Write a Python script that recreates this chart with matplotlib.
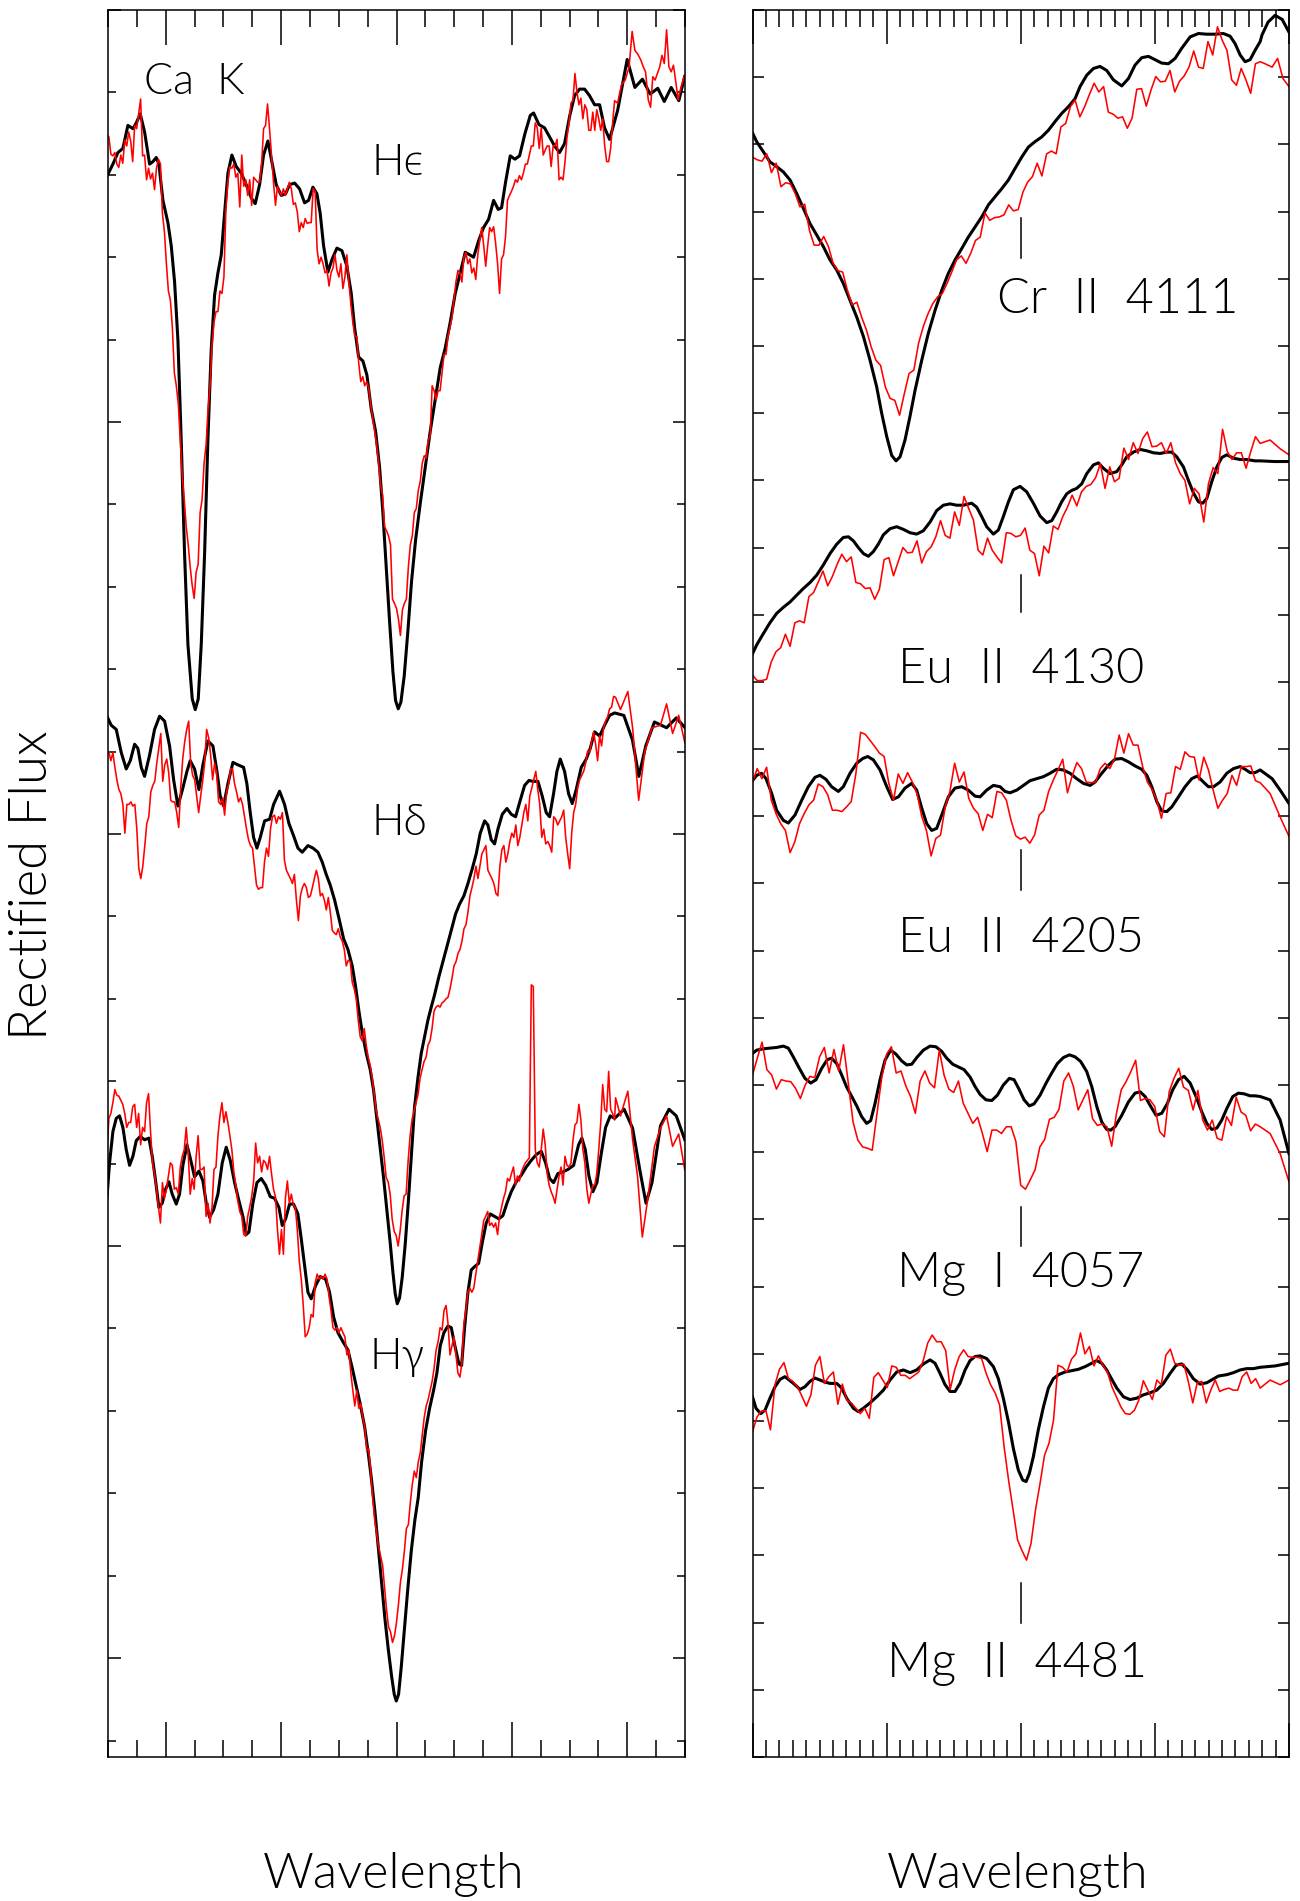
import numpy as np
import matplotlib
matplotlib.use('Agg')
import matplotlib.pyplot as plt
from matplotlib.ticker import MultipleLocator

FONT = ['Lato', 'DejaVu Sans']
plt.rcParams['font.family'] = FONT

# ---------------- LEFT PANEL (delta-lambda in Angstrom, rectified flux + offsets) ----------------
# Ca K + H-epsilon : model
tl_model_x = [-50.19,-49.15,-48.28,-47.42,-46.55,-45.68,-45.10,-44.41,-43.66,-42.79,
              -42.22,-41.64,-41.18,-40.48,-39.62,-39.04,-38.46,-37.88,-37.31,-36.73,
              -36.15,-35.40,-34.88,-34.36,-33.84,-33.26,-32.69,-32.11,-31.53,-30.95,
              -30.37,-29.80,-29.22,-28.53,-27.77,-26.91,-26.04,-25.17,-24.48,-23.73,
              -23.04,-22.29,-21.53,-20.84,-19.97,-19.22,-18.53,-17.66,-16.80,-15.93,
              -15.24,-14.49,-13.79,-13.22,-12.64,-11.89,-11.14,-10.33,-9.46,-8.59,
              -7.84,-7.27,-6.57,-5.82,-5.13,-4.38,-3.63,-2.93,-2.36,-1.78,
              -1.20,-0.62,-0.16,0.30,0.76,1.34,1.98,2.61,3.31,4.11,
              4.98,5.85,6.71,7.58,8.45,9.31,10.18,11.05,11.91,12.67,
              13.36,14.23,15.09,15.96,16.83,17.63,18.21,18.90,19.71,20.52,
              21.33,22.26,23.18,23.76,24.68,25.66,26.53,27.40,28.26,29.13,
              30.00,30.86,31.73,32.60,33.46,34.33,35.20,36.06,36.93,38.32,
              39.98,41.31,42.63,43.96,45.28,46.41,47.61,48.93,49.93]
tl_model_y = [2.298,2.313,2.327,2.332,2.360,2.356,2.363,2.374,2.352,2.313,
              2.316,2.321,2.313,2.269,2.242,2.214,2.170,2.099,1.978,1.840,
              1.730,1.664,1.651,1.664,1.730,1.840,1.978,2.088,2.154,2.181,
              2.203,2.253,2.302,2.324,2.310,2.302,2.288,2.272,2.265,2.288,
              2.324,2.341,2.313,2.288,2.275,2.277,2.288,2.290,2.283,2.266,
              2.269,2.285,2.277,2.253,2.214,2.182,2.198,2.211,2.208,2.189,
              2.156,2.115,2.079,2.074,2.057,2.016,1.989,1.945,1.890,1.824,
              1.758,1.697,1.662,1.652,1.660,1.692,1.747,1.807,1.857,1.901,
              1.945,1.989,2.027,2.066,2.090,2.121,2.156,2.181,2.206,2.203,
              2.200,2.220,2.236,2.246,2.269,2.258,2.260,2.291,2.323,2.319,
              2.323,2.350,2.372,2.375,2.361,2.357,2.346,2.335,2.327,2.338,
              2.371,2.396,2.404,2.404,2.396,2.385,2.385,2.357,2.343,2.378,
              2.440,2.406,2.416,2.398,2.405,2.389,2.406,2.390,2.419]
# Ca K + H-epsilon : observed (uniform sampling from tl_obs_start to tl_obs_stop, then tail)
tl_obs_start, tl_obs_stop = -50.19, 37.80
tl_obs_y = [2.349,2.346,2.325,2.323,2.327,2.313,2.309,2.324,2.314,2.342,
            2.335,2.352,2.341,2.316,2.360,2.356,2.374,2.392,2.323,2.324,
            2.294,2.308,2.295,2.302,2.282,2.308,2.319,2.313,2.253,2.231,
            2.192,2.159,2.148,2.115,2.060,2.044,2.022,1.978,1.934,1.906,
            1.873,1.851,1.824,1.802,1.786,1.818,1.827,1.890,1.906,1.950,
            1.972,2.016,2.044,2.093,2.121,2.134,2.134,2.159,2.156,2.176,
            2.258,2.291,2.310,2.308,2.313,2.297,2.302,2.261,2.324,2.286,
            2.294,2.275,2.294,2.263,2.297,2.294,2.291,2.291,2.313,2.356,
            2.360,2.386,2.356,2.324,2.291,2.263,2.286,2.280,2.275,2.283,
            2.275,2.283,2.291,2.283,2.264,2.266,2.255,2.231,2.242,2.236,
            2.247,2.241,2.242,2.242,2.283,2.280,2.209,2.192,2.200,2.192,
            2.181,2.184,2.165,2.181,2.187,2.203,2.184,2.176,2.192,2.162,
            2.176,2.203,2.170,2.143,2.121,2.104,2.104,2.071,2.049,2.055,
            2.044,2.049,2.041,2.022,2.005,1.989,1.972,1.950,1.923,1.912,
            1.873,1.868,1.862,1.851,1.785,1.780,1.774,1.761,1.741,1.772,
            1.780,1.785,1.824,1.851,1.862,1.890,1.895,1.917,1.928,1.950,
            1.959,1.956,1.978,1.983,2.044,2.038,2.027,2.038,2.038,2.060,
            2.082,2.082,2.104,2.115,2.126,2.148,2.170,2.184,2.181,2.170,
            2.200,2.206,2.192,2.198,2.181,2.187,2.173,2.203,2.220,2.236,
            2.214,2.189,2.214,2.236,2.231,2.237,2.217,2.192,2.156,2.198,
            2.203,2.225,2.269,2.275,2.280,2.286,2.294,2.291,2.299,2.294,
            2.302,2.313,2.313,2.324,2.335,2.335,2.363,2.357,2.332,2.357,
            2.324,2.330,2.335,2.335,2.310,2.335,2.335,2.343,2.294,2.297,
            2.294,2.316,2.346,2.363,2.387,2.390,2.423,2.401,2.385,2.393,
            2.368,2.385,2.379,2.354,2.354,2.376,2.354,2.379,2.368,2.354,
            2.368,2.335,2.316,2.316,2.332,2.363,2.390]
tl_obs_tail_x = [38.32,38.98,39.65,40.31,40.84,41.31,41.77,42.30,42.77,43.16,43.63,44.03,44.42,
                 44.82,45.22,45.62,46.01,46.41,46.81,47.21,47.61,48.00,48.40,48.80,49.27,49.93]
tl_obs_tail_y = [2.387,2.409,2.415,2.431,2.474,2.451,2.447,2.440,2.431,2.425,2.391,2.382,2.419,
                 2.415,2.423,2.431,2.445,2.435,2.476,2.431,2.425,2.433,2.413,2.391,2.405,2.421]

# H-delta : model
ml_model_x = [-50.19,-49.44,-48.57,-47.71,-46.84,-46.14,-45.39,-44.82,-44.24,-43.66,
              -42.79,-41.93,-41.06,-40.19,-39.33,-38.63,-37.88,-37.02,-36.32,-35.75,
              -35.0,-34.24,-33.55,-32.68,-31.82,-31.12,-30.55,-29.97,-29.22,-28.35,
              -27.49,-26.50,-25.93,-25.35,-24.77,-24.19,-23.61,-22.86,-21.99,-21.30,
              -20.26,-19.40,-18.65,-17.84,-17.09,-16.34,-15.35,-14.49,-13.62,-12.87,
              -12.18,-11.48,-10.73,-9.98,-9.17,-8.42,-7.67,-7.09,-6.51,-5.94,
              -5.24,-4.55,-3.97,-3.40,-2.82,-2.24,-1.66,-1.08,-0.62,-0.22,
              0.13,0.53,0.99,1.52,2.04,2.56,3.13,3.71,4.29,4.87,
              5.44,6.02,6.60,7.35,8.04,8.80,9.55,10.24,10.93,11.68,
              12.38,13.13,13.82,14.51,15.27,15.84,16.42,17.0,17.58,18.33,
              19.14,19.89,20.64,21.45,22.20,22.95,23.64,24.51,25.26,25.95,
              26.53,27.22,27.80,28.38,29.13,29.82,30.46,31.15,32.02,32.89,
              33.58,34.33,35.20,36.06,36.93,37.80,39.4,40.9,42.0,43.2,
              44.7,46.8,48.5,50.0]
ml_model_y = [1.643,1.632,1.627,1.599,1.579,1.589,1.609,1.604,1.581,1.570,
              1.596,1.627,1.643,1.637,1.607,1.566,1.534,1.556,1.576,1.589,
              1.579,1.554,1.584,1.613,1.607,1.576,1.546,1.534,1.561,1.587,
              1.584,1.581,1.561,1.526,1.496,1.483,1.496,1.516,1.518,1.536,
              1.552,1.536,1.513,1.498,1.483,1.478,1.486,1.483,1.478,1.466,
              1.451,1.438,1.420,1.398,1.373,1.360,1.340,1.315,1.285,1.259,
              1.234,1.214,1.189,1.154,1.118,1.083,1.043,1.003,0.968,0.942,
              0.930,0.937,0.962,1.003,1.053,1.108,1.169,1.204,1.234,1.254,
              1.274,1.290,1.305,1.327,1.345,1.365,1.385,1.403,1.415,1.425,
              1.440,1.458,1.476,1.501,1.516,1.511,1.493,1.488,1.506,1.524,
              1.531,1.524,1.521,1.541,1.559,1.565,1.564,1.564,1.546,1.526,
              1.521,1.549,1.576,1.591,1.576,1.549,1.537,1.554,1.581,1.591,
              1.604,1.624,1.619,1.632,1.644,1.647,1.644,1.614,1.570,1.607,
              1.636,1.629,1.641,1.629]
ml_obs_start, ml_obs_stop = -50.19, 37.62
ml_obs_y = [1.601,1.599,1.589,1.599,1.581,1.566,1.554,1.549,1.536,1.501,
            1.536,1.536,1.539,1.534,1.536,1.506,1.458,1.446,1.461,1.486,
            1.513,1.521,1.551,1.559,1.564,1.586,1.604,1.622,1.564,1.584,
            1.591,1.574,1.541,1.539,1.539,1.526,1.508,1.556,1.591,1.612,
            1.627,1.637,1.586,1.571,1.566,1.546,1.526,1.546,1.564,1.586,
            1.627,1.617,1.596,1.566,1.586,1.574,1.539,1.536,1.544,1.523,
            1.551,1.561,1.579,1.579,1.561,1.551,1.539,1.544,1.536,1.521,
            1.506,1.493,1.486,1.483,1.461,1.438,1.433,1.435,1.435,1.466,
            1.483,1.473,1.506,1.521,1.523,1.513,1.521,1.518,1.526,1.468,
            1.456,1.451,1.446,1.440,1.451,1.420,1.395,1.425,1.435,1.440,
            1.435,1.423,1.425,1.435,1.446,1.456,1.446,1.425,1.428,1.420,
            1.408,1.423,1.405,1.383,1.380,1.378,1.385,1.375,1.370,1.360,
            1.340,1.347,1.345,1.320,1.312,1.300,1.274,1.254,1.249,1.264,
            1.244,1.229,1.219,1.204,1.184,1.164,1.154,1.144,1.129,1.108,
            1.083,1.078,1.063,1.033,1.018,1.013,1.000,1.018,1.043,1.061,
            1.063,1.103,1.134,1.154,1.164,1.174,1.184,1.204,1.214,1.224,
            1.229,1.244,1.249,1.264,1.285,1.290,1.292,1.290,1.295,1.297,
            1.300,1.302,1.312,1.325,1.340,1.345,1.355,1.360,1.370,1.385,
            1.390,1.405,1.425,1.435,1.446,1.461,1.446,1.461,1.476,1.481,
            1.486,1.456,1.451,1.446,1.440,1.428,1.425,1.461,1.481,1.486,
            1.466,1.476,1.491,1.501,1.496,1.511,1.486,1.496,1.511,1.526,
            1.536,1.516,1.546,1.556,1.566,1.576,1.554,1.536,1.496,1.506,
            1.488,1.491,1.486,1.478,1.521,1.518,1.511,1.516,1.521,1.529,
            1.496,1.476,1.458,1.501,1.526,1.536,1.556,1.566,1.571,1.576,
            1.586,1.601,1.599,1.612,1.624,1.609,1.589,1.619,1.607,1.629,
            1.637,1.642,1.652,1.654,1.667]
ml_obs_tail_x = [37.97,38.82,40.09,40.92,41.97,43.03,44.28,45.75,46.81,47.85,48.91,49.97]
ml_obs_tail_y = [1.666,1.651,1.673,1.629,1.541,1.600,1.629,1.632,1.658,1.622,1.644,1.611]

# H-gamma : model
bl_model_x = [-50.19,-49.73,-49.15,-48.57,-48.0,-47.42,-46.84,-46.26,-45.68,-45.10,
              -44.41,-43.66,-42.91,-42.33,-41.75,-41.18,-40.60,-40.02,-39.44,-38.87,
              -38.17,-37.60,-37.02,-36.32,-35.75,-35.0,-34.24,-33.55,-32.97,-32.40,
              -31.70,-30.95,-30.20,-29.51,-28.81,-28.06,-27.31,-26.62,-26.04,-25.58,
              -24.89,-24.19,-23.44,-22.69,-21.88,-21.13,-20.38,-19.80,-19.22,-18.53,
              -17.84,-17.09,-16.51,-15.93,-15.35,-14.78,-14.02,-13.22,-12.29,-11.60,
              -10.90,-10.15,-9.29,-8.42,-7.67,-6.98,-6.28,-5.53,-4.90,-4.32,
              -3.74,-3.16,-2.59,-2.01,-1.43,-0.85,-0.39,-0.04,0.36,0.82,
              1.34,1.92,2.56,3.19,3.77,4.35,5.04,5.73,6.43,7.0,
              7.58,8.22,8.91,9.49,10.12,10.82,11.28,11.80,12.38,12.95,
              13.53,14.23,14.86,15.55,16.25,17.0,17.75,18.44,19.14,19.89,
              20.75,21.62,22.49,23.35,24.22,25.09,25.84,26.53,27.22,27.97,
              28.84,29.71,30.69,31.56,32.13,32.71,33.35,34.04,34.73,35.48,
              36.24,37.04,37.80,39.45,40.92,42.18,43.24,44.28,45.75,47.23,
              48.49,49.97]
bl_model_y = [1.058,1.101,1.139,1.155,1.158,1.144,1.117,1.098,1.109,1.128,
              1.133,1.129,1.131,1.109,1.079,1.047,1.052,1.069,1.078,1.063,
              1.051,1.063,1.098,1.123,1.107,1.084,1.091,1.079,1.052,1.035,
              1.044,1.063,1.101,1.120,1.104,1.077,1.055,1.036,1.014,1.017,
              1.052,1.077,1.082,1.074,1.060,1.058,1.047,1.025,1.033,1.051,
              1.051,1.039,1.009,0.976,0.944,0.936,0.952,0.963,0.960,0.944,
              0.914,0.895,0.884,0.874,0.852,0.830,0.808,0.781,0.749,0.716,
              0.678,0.635,0.592,0.548,0.511,0.478,0.456,0.448,0.456,0.489,
              0.532,0.581,0.630,0.668,0.695,0.738,0.776,0.803,0.825,0.846,
              0.879,0.895,0.903,0.901,0.879,0.857,0.855,0.901,0.944,0.971,
              0.975,0.979,1.004,1.028,1.039,1.036,1.033,1.037,1.052,1.066,
              1.078,1.086,1.096,1.104,1.111,1.115,1.101,1.082,1.077,1.088,
              1.090,1.093,1.098,1.123,1.131,1.117,1.085,1.066,1.077,1.112,
              1.144,1.158,1.155,1.166,1.143,1.092,1.052,1.077,1.146,1.166,
              1.158,1.129]
bl_obs_start, bl_obs_stop = -50.19, 37.80
bl_obs_y = [1.112,1.155,1.161,1.174,1.190,1.183,1.182,1.177,1.172,1.161,
            1.144,1.150,1.150,1.169,1.172,1.144,1.161,1.123,1.144,1.139,
            1.174,1.185,1.139,1.101,1.088,1.069,1.047,1.028,1.077,1.058,
            1.069,1.085,1.101,1.098,1.069,1.071,1.063,1.096,1.109,1.117,
            1.144,1.112,1.063,1.082,1.069,1.109,1.134,1.093,1.093,1.096,
            1.036,1.052,1.028,1.047,1.093,1.096,1.134,1.158,1.174,1.150,
            1.163,1.150,1.134,1.117,1.090,1.074,1.055,1.042,1.036,1.014,
            1.012,1.036,1.047,1.060,1.079,1.125,1.101,1.109,1.090,1.104,
            1.101,1.093,1.109,1.088,1.069,1.060,1.020,0.990,1.020,0.990,
            1.058,1.079,1.052,1.063,1.050,1.047,1.020,0.982,0.960,0.928,
            0.890,0.893,0.901,0.917,0.914,0.955,0.966,0.960,0.963,0.960,
            0.966,0.960,0.939,0.922,0.901,0.898,0.901,0.895,0.901,0.895,
            0.890,0.868,0.874,0.846,0.825,0.806,0.825,0.803,0.809,0.792,
            0.781,0.752,0.754,0.727,0.695,0.668,0.651,0.635,0.624,0.613,
            0.586,0.559,0.538,0.532,0.519,0.527,0.543,0.565,0.592,0.608,
            0.630,0.657,0.662,0.689,0.711,0.727,0.719,0.738,0.749,0.771,
            0.792,0.806,0.814,0.825,0.836,0.852,0.874,0.884,0.901,0.898,
            0.922,0.928,0.906,0.868,0.879,0.890,0.868,0.846,0.841,0.858,
            0.906,0.922,0.944,0.949,0.944,0.949,0.966,0.982,0.998,1.014,
            1.031,1.036,1.042,1.025,1.028,1.023,1.028,1.014,1.036,1.047,
            1.058,1.066,1.082,1.079,1.088,1.096,1.074,1.085,1.079,1.090,
            1.096,1.101,1.104,1.107,1.317,1.315,1.117,1.101,1.096,1.117,
            1.142,1.123,1.088,1.074,1.066,1.060,1.052,1.069,1.085,1.096,
            1.074,1.109,1.098,1.096,1.101,1.128,1.147,1.150,1.172,1.153,
            1.117,1.101,1.069,1.052,1.063,1.074,1.074,1.088,1.117,1.150,
            1.196,1.166,1.163,1.212,1.166,1.161,1.153]
bl_obs_tail_x = [37.97,38.82,40.09,40.92,41.77,42.60,43.66,44.71,45.75,46.81,47.85,48.91,49.97]
bl_obs_tail_y = [1.180,1.158,1.188,1.129,1.085,1.011,1.063,1.121,1.143,1.158,1.121,1.136,1.092]

# ---------------- RIGHT PANEL (delta-lambda in Angstrom) ----------------
r_obs_start, r_obs_stop = -2.0, 1.785
r_tail_x = [1.859, 1.934, 2.0]

cr_model_x = [-2.0,-1.969,-1.919,-1.870,-1.820,-1.770,-1.720,-1.671,-1.621,-1.571,
              -1.521,-1.472,-1.422,-1.372,-1.323,-1.273,-1.223,-1.173,-1.124,-1.074,
              -1.037,-0.999,-0.962,-0.930,-0.900,-0.863,-0.826,-0.788,-0.738,-0.689,
              -0.639,-0.589,-0.540,-0.490,-0.440,-0.391,-0.341,-0.291,-0.241,-0.192,
              -0.142,-0.092,-0.043,0.007,0.057,0.106,0.156,0.206,0.256,0.305,
              0.355,0.405,0.442,0.492,0.542,0.591,0.641,0.691,0.753,0.803,
              0.852,0.902,0.952,1.002,1.051,1.101,1.151,1.200,1.263,1.325,
              1.387,1.449,1.511,1.561,1.598,1.636,1.673,1.710,1.747,1.785,
              1.799,1.844,1.896,1.949,2.0]
cr_model_y = [2.417,2.404,2.389,2.374,2.367,2.359,2.347,2.327,2.305,2.282,
              2.265,2.248,2.228,2.213,2.193,2.168,2.143,2.114,2.079,2.039,
              2.000,1.965,1.937,1.929,1.935,1.960,1.995,2.034,2.079,2.119,
              2.153,2.183,2.208,2.228,2.245,2.262,2.277,2.292,2.310,2.322,
              2.334,2.347,2.364,2.381,2.396,2.404,2.411,2.421,2.434,2.446,
              2.456,2.468,2.486,2.503,2.513,2.516,2.510,2.496,2.487,2.498,
              2.518,2.529,2.531,2.526,2.521,2.520,2.528,2.543,2.560,2.565,
              2.564,2.564,2.565,2.561,2.550,2.533,2.523,2.526,2.540,2.553,
              2.563,2.582,2.592,2.586,2.567]
cr_obs_y = [2.381,2.377,2.375,2.386,2.358,2.372,2.337,2.343,2.341,2.327,
            2.307,2.311,2.272,2.250,2.250,2.263,2.248,2.223,2.212,2.210,
            2.183,2.161,2.165,2.143,2.124,2.099,2.079,2.071,2.039,2.022,
            2.019,1.997,2.029,2.059,2.064,2.104,2.129,2.148,2.163,2.173,
            2.178,2.193,2.210,2.228,2.234,2.223,2.238,2.257,2.262,2.298,
            2.287,2.291,2.292,2.295,2.310,2.301,2.303,2.329,2.344,2.352,
            2.372,2.353,2.386,2.390,2.386,2.426,2.431,2.456,2.466,2.441,
            2.456,2.474,2.491,2.478,2.486,2.448,2.445,2.439,2.441,2.424,
            2.439,2.482,2.483,2.457,2.481,2.501,2.493,2.494,2.510,2.478,
            2.494,2.502,2.515,2.539,2.515,2.513,2.553,2.533,2.575,2.555,
            2.540,2.496,2.488,2.513,2.496,2.476,2.520,2.523]
cr_obs_tail_x = [1.822, 1.874, 1.915, 1.955, 2.0]
cr_obs_tail_y = [2.520, 2.515, 2.528, 2.498, 2.486]

eu1_model_x = [-2.0,-1.969,-1.919,-1.870,-1.820,-1.770,-1.720,-1.671,-1.621,-1.571,
               -1.521,-1.472,-1.422,-1.372,-1.323,-1.285,-1.248,-1.211,-1.173,-1.136,
               -1.099,-1.062,-1.024,-0.975,-0.925,-0.875,-0.825,-0.776,-0.726,-0.676,
               -0.627,-0.577,-0.527,-0.478,-0.428,-0.366,-0.328,-0.291,-0.254,-0.204,
               -0.167,-0.130,-0.092,-0.055,-0.005,0.044,0.094,0.144,0.194,0.231,
               0.268,0.305,0.343,0.380,0.417,0.455,0.492,0.542,0.579,0.616,
               0.666,0.716,0.753,0.790,0.840,0.890,0.939,0.989,1.039,1.089,
               1.126,1.163,1.213,1.250,1.288,1.325,1.357,1.387,1.424,1.462,
               1.499,1.536,1.586,1.635,1.685,1.747,1.785,1.89,2.0]
eu1_model_y = [1.642,1.655,1.672,1.688,1.702,1.711,1.719,1.729,1.739,1.748,
               1.759,1.774,1.791,1.805,1.815,1.816,1.810,1.800,1.791,1.787,
               1.794,1.805,1.819,1.828,1.831,1.827,1.822,1.820,1.825,1.838,
               1.855,1.863,1.865,1.863,1.863,1.866,1.860,1.846,1.831,1.820,
               1.826,1.846,1.868,1.886,1.891,1.883,1.866,1.847,1.837,1.840,
               1.853,1.868,1.880,1.885,1.888,1.895,1.910,1.923,1.926,1.918,
               1.910,1.913,1.923,1.935,1.942,1.946,1.944,1.941,1.940,1.942,
               1.942,1.935,1.920,1.900,1.881,1.868,1.866,1.873,1.898,1.920,
               1.934,1.938,1.933,1.931,1.931,1.929,1.929,1.928,1.928]
eu1_obs_y = [1.610,1.602,1.602,1.604,1.630,1.645,1.651,1.671,1.653,1.688,
             1.691,1.688,1.727,1.733,1.749,1.765,1.743,1.757,1.775,1.790,
             1.779,1.786,1.748,1.746,1.739,1.740,1.723,1.738,1.782,1.785,
             1.758,1.779,1.800,1.792,1.793,1.810,1.777,1.794,1.801,1.816,
             1.840,1.818,1.814,1.853,1.833,1.876,1.858,1.841,1.796,1.789,
             1.814,1.796,1.786,1.777,1.822,1.821,1.816,1.818,1.829,1.796,
             1.791,1.758,1.802,1.792,1.832,1.827,1.846,1.860,1.878,1.862,
             1.883,1.891,1.894,1.904,1.925,1.888,1.920,1.898,1.903,1.948,
             1.931,1.956,1.940,1.962,1.972,1.950,1.951,1.956,1.940,1.956,
             1.926,1.910,1.900,1.865,1.888,1.880,1.838,1.895,1.919,1.910,
             1.976,1.943,1.931,1.941,1.941,1.918,1.943,1.965,1.955]
eu1_obs_tail_y = [1.960, 1.947, 1.938]

eu2_model_x = [-2.0,-1.969,-1.932,-1.899,-1.857,-1.820,-1.770,-1.733,-1.683,-1.633,
               -1.584,-1.534,-1.497,-1.452,-1.410,-1.360,-1.323,-1.273,-1.223,-1.178,
               -1.141,-1.099,-1.049,-0.999,-0.955,-0.912,-0.863,-0.813,-0.776,-0.738,
               -0.701,-0.664,-0.627,-0.589,-0.540,-0.490,-0.440,-0.391,-0.341,-0.303,
               -0.254,-0.204,-0.154,-0.117,-0.080,-0.030,0.020,0.069,0.119,0.169,
               0.218,0.268,0.318,0.368,0.417,0.467,0.517,0.554,0.604,0.654,
               0.703,0.753,0.803,0.852,0.902,0.940,0.977,1.014,1.051,1.089,
               1.126,1.176,1.225,1.275,1.317,1.362,1.399,1.437,1.486,1.536,
               1.586,1.635,1.673,1.710,1.747,1.785,1.874,1.934,2.0]
eu2_model_y = [1.453,1.461,1.464,1.456,1.434,1.409,1.394,1.390,1.402,1.424,
               1.444,1.458,1.461,1.455,1.444,1.437,1.444,1.464,1.479,1.486,
               1.489,1.484,1.469,1.444,1.425,1.429,1.442,1.449,1.439,1.412,
               1.389,1.379,1.382,1.402,1.429,1.442,1.444,1.439,1.430,1.429,
               1.439,1.446,1.444,1.437,1.435,1.439,1.446,1.453,1.456,1.459,
               1.464,1.470,1.469,1.464,1.456,1.449,1.446,1.451,1.464,1.476,
               1.485,1.486,1.481,1.475,1.470,1.461,1.444,1.422,1.408,1.407,
               1.414,1.429,1.444,1.456,1.460,1.451,1.444,1.444,1.451,1.464,
               1.471,1.474,1.470,1.465,1.465,1.469,1.456,1.439,1.419]
eu2_obs_y = [1.451,1.471,1.456,1.473,1.424,1.404,1.389,1.379,1.346,1.362,
             1.389,1.404,1.417,1.424,1.448,1.444,1.432,1.409,1.409,1.407,
             1.414,1.422,1.464,1.525,1.522,1.513,1.504,1.494,1.489,1.449,
             1.424,1.463,1.449,1.465,1.451,1.434,1.400,1.379,1.341,1.367,
             1.372,1.414,1.437,1.479,1.451,1.466,1.427,1.412,1.404,1.379,
             1.403,1.398,1.437,1.435,1.424,1.394,1.371,1.366,1.369,1.360,
             1.372,1.402,1.409,1.437,1.454,1.469,1.485,1.435,1.460,1.480,
             1.471,1.451,1.450,1.451,1.471,1.479,1.471,1.485,1.521,1.494,
             1.523,1.506,1.506,1.474,1.451,1.440,1.424,1.397,1.434,1.435,
             1.474,1.470,1.496,1.489,1.488,1.454,1.488,1.469,1.439,1.412,
             1.424,1.434,1.461,1.446,1.474,1.474,1.475,1.453,1.450]
eu2_obs_tail_y = [1.434, 1.399, 1.370]

mg1_model_x = [-2.0,-1.969,-1.919,-1.870,-1.820,-1.770,-1.733,-1.696,-1.651,-1.609,
               -1.566,-1.526,-1.484,-1.442,-1.410,-1.372,-1.335,-1.298,-1.260,-1.223,
               -1.186,-1.149,-1.119,-1.086,-1.049,-1.012,-0.970,-0.930,-0.888,-0.850,
               -0.813,-0.771,-0.726,-0.676,-0.632,-0.589,-0.552,-0.507,-0.465,-0.423,
               -0.378,-0.341,-0.303,-0.259,-0.216,-0.174,-0.130,-0.085,-0.050,-0.013,
               0.025,0.064,0.099,0.144,0.189,0.231,0.273,0.318,0.363,0.405,
               0.447,0.492,0.529,0.567,0.604,0.641,0.671,0.703,0.753,0.803,
               0.852,0.890,0.927,0.964,1.009,1.051,1.094,1.133,1.176,1.218,
               1.263,1.307,1.350,1.387,1.424,1.462,1.499,1.536,1.581,1.623,
               1.665,1.710,1.747,1.785,1.859,1.934,2.0]
mg1_model_y = [1.047,1.052,1.054,1.055,1.056,1.058,1.055,1.042,1.025,1.010,
               1.003,1.008,1.025,1.038,1.040,1.032,1.015,0.997,0.983,0.969,
               0.953,0.943,0.947,0.973,1.008,1.037,1.052,1.046,1.036,1.030,
               1.031,1.042,1.052,1.058,1.057,1.050,1.040,1.031,1.027,1.023,
               1.012,0.998,0.986,0.978,0.977,0.985,1.000,1.010,1.008,0.994,
               0.978,0.969,0.972,0.985,1.003,1.018,1.032,1.041,1.045,1.042,
               1.035,1.020,0.998,0.968,0.945,0.934,0.933,0.938,0.955,0.975,
               0.988,0.990,0.983,0.970,0.955,0.958,0.973,0.993,1.008,1.013,
               1.003,0.983,0.960,0.943,0.934,0.936,0.948,0.965,0.983,0.988,
               0.987,0.984,0.984,0.983,0.978,0.948,0.898]
mg1_obs_y = [1.015,1.040,1.064,1.023,1.015,0.994,1.008,1.006,1.005,0.995,
             0.980,1.000,1.013,1.011,1.042,1.056,1.018,1.053,1.021,1.060,
             1.003,0.945,0.918,0.908,0.906,0.903,0.958,1.012,1.046,1.057,
             1.018,1.021,0.999,0.983,0.958,1.006,1.021,1.003,0.996,1.052,
             1.015,0.994,0.989,1.006,0.973,0.958,0.943,0.952,0.928,0.901,
             0.933,0.933,0.928,0.938,0.938,0.916,0.851,0.845,0.859,0.874,
             0.908,0.919,0.949,0.952,0.964,1.006,1.018,0.998,0.963,0.978,
             0.993,0.950,0.940,0.942,0.938,0.909,0.958,0.993,1.005,1.020,
             1.037,0.977,0.980,0.978,0.968,0.931,0.923,0.990,1.010,1.025,
             0.997,0.992,0.963,0.992,0.948,0.933,0.948,0.921,0.918,0.953,
             0.940,0.982,0.960,0.955,0.932,0.942,0.938]
mg1_obs_tail_y = [0.928, 0.898, 0.856]

mg2_model_x = [-2.0,-1.974,-1.939,-1.907,-1.870,-1.832,-1.795,-1.758,-1.720,-1.683,
               -1.646,-1.609,-1.571,-1.534,-1.497,-1.459,-1.422,-1.372,-1.335,-1.298,
               -1.248,-1.211,-1.173,-1.124,-1.074,-1.024,-0.975,-0.925,-0.875,-0.825,
               -0.776,-0.726,-0.676,-0.639,-0.602,-0.564,-0.527,-0.490,-0.453,-0.415,
               -0.378,-0.341,-0.303,-0.254,-0.204,-0.167,-0.130,-0.092,-0.055,-0.018,
               0.015,0.040,0.064,0.094,0.131,0.169,0.206,0.243,0.281,0.330,
               0.380,0.430,0.480,0.529,0.567,0.604,0.641,0.679,0.716,0.766,
               0.815,0.865,0.915,0.964,1.014,1.064,1.114,1.158,1.200,1.243,
               1.287,1.337,1.387,1.431,1.474,1.536,1.586,1.635,1.685,1.735,
               1.785,1.896,2.0]
mg2_model_y = [0.536,0.519,0.511,0.516,0.534,0.551,0.562,0.566,0.560,0.554,
               0.547,0.551,0.559,0.564,0.561,0.558,0.556,0.556,0.549,0.534,
               0.519,0.514,0.519,0.527,0.536,0.546,0.561,0.573,0.576,0.572,
               0.576,0.585,0.591,0.586,0.571,0.554,0.544,0.544,0.556,0.576,
               0.590,0.596,0.597,0.593,0.581,0.563,0.534,0.499,0.459,0.427,
               0.412,0.410,0.422,0.447,0.487,0.521,0.549,0.563,0.569,0.573,
               0.575,0.577,0.581,0.586,0.590,0.586,0.576,0.562,0.549,0.536,
               0.532,0.534,0.539,0.542,0.546,0.556,0.571,0.583,0.585,0.576,
               0.563,0.555,0.557,0.562,0.567,0.569,0.572,0.576,0.578,0.578,
               0.580,0.582,0.586]
mg2_obs_y = [0.484,0.506,0.515,0.515,0.487,0.554,0.577,0.587,0.563,0.559,
             0.551,0.537,0.522,0.539,0.583,0.596,0.556,0.566,0.573,0.525,
             0.555,0.531,0.527,0.519,0.511,0.519,0.504,0.565,0.572,0.561,
             0.550,0.582,0.580,0.568,0.568,0.563,0.568,0.573,0.590,0.616,
             0.628,0.618,0.618,0.605,0.547,0.576,0.596,0.606,0.596,0.595,
             0.595,0.593,0.571,0.554,0.542,0.524,0.462,0.412,0.368,0.323,
             0.307,0.293,0.318,0.368,0.407,0.449,0.467,0.501,0.583,0.580,
             0.573,0.592,0.600,0.631,0.600,0.611,0.582,0.597,0.583,0.573,
             0.551,0.536,0.521,0.511,0.510,0.516,0.531,0.560,0.546,0.532,
             0.561,0.554,0.598,0.607,0.586,0.583,0.585,0.559,0.527,0.557,
             0.559,0.527,0.546,0.561,0.544,0.547,0.549,0.546,0.546,0.566,
             0.573,0.556,0.563,0.549]
mg2_obs_tail_y = [0.561, 0.554, 0.561]

# line identifications on the right panel
right_labels = ['Cr  II  4111', 'Eu  II  4130', 'Eu  II  4205', 'Mg  I  4057', 'Mg  II  4481']
right_label_x = [-0.18, 0.0, 0.0, 0.0, -0.03]
right_label_ha = ['left', 'center', 'center', 'center', 'center']
right_label_y = [2.149, 1.598, 1.198, 0.699, 0.1195]
marker_lo = [2.231, 1.704, 1.290, 0.760, 0.199]
marker_hi = [2.290, 1.759, 1.350, 0.818, 0.259]

left_labels = ['Ca  K', 'H\u03f5', 'H\u03b4', 'H\u03b3']
left_label_x = [-43.7, -4.3, -4.3, -4.66]
left_label_y = [2.398, 2.300, 1.499, 0.851]


def pair(x, y):
    n = min(len(x), len(y))
    return np.asarray(x[:n], float), np.asarray(y[:n], float)


def obs_series(start, stop, ys, tail_x, tail_y):
    x = np.concatenate([np.linspace(start, stop, len(ys)), np.asarray(tail_x, float)])
    y = np.concatenate([np.asarray(ys, float), np.asarray(tail_y, float)])
    return x, y


W, H = 1300, 1901
fig = plt.figure(figsize=(W / 100, H / 100), dpi=100)
axL = fig.add_axes([108 / W, 1 - 1757 / H, 577 / W, 1747 / H])
axR = fig.add_axes([752.5 / W, 1 - 1757 / H, 536.5 / W, 1747 / H])

MODEL_KW = dict(color='black', lw=2.2, solid_joinstyle='round')
OBS_KW = dict(color='#ff0000', lw=1.15)

for mx, my, s0, s1, oy, tx, ty in [
        (tl_model_x, tl_model_y, tl_obs_start, tl_obs_stop, tl_obs_y, tl_obs_tail_x, tl_obs_tail_y),
        (ml_model_x, ml_model_y, ml_obs_start, ml_obs_stop, ml_obs_y, ml_obs_tail_x, ml_obs_tail_y),
        (bl_model_x, bl_model_y, bl_obs_start, bl_obs_stop, bl_obs_y, bl_obs_tail_x, bl_obs_tail_y)]:
    axL.plot(*pair(mx, my), **MODEL_KW)
    axL.plot(*obs_series(s0, s1, oy, tx, ty), **OBS_KW)

for mx, my, oy, tx, ty in [
        (cr_model_x, cr_model_y, cr_obs_y, cr_obs_tail_x, cr_obs_tail_y),
        (eu1_model_x, eu1_model_y, eu1_obs_y, r_tail_x, eu1_obs_tail_y),
        (eu2_model_x, eu2_model_y, eu2_obs_y, r_tail_x, eu2_obs_tail_y),
        (mg1_model_x, mg1_model_y, mg1_obs_y, r_tail_x, mg1_obs_tail_y),
        (mg2_model_x, mg2_model_y, mg2_obs_y, r_tail_x, mg2_obs_tail_y)]:
    axR.plot(*pair(mx, my), **MODEL_KW)
    axR.plot(*obs_series(r_obs_start, r_obs_stop, oy, tx, ty), **OBS_KW)

for lo, hi in zip(marker_lo, marker_hi):
    axR.plot([0, 0], [lo, hi], color='black', lw=1.1)

TEXT_KW = dict(family=FONT, fontweight=300, color='black')
for s, x, y in zip(left_labels, left_label_x, left_label_y):
    axL.text(x, y, s, ha='left', va='baseline', fontsize=31, **TEXT_KW)
for s, x, y, ha in zip(right_labels, right_label_x, right_label_y, right_label_ha):
    axR.text(x, y, s, ha=ha, va='baseline', fontsize=35, **TEXT_KW)

axL.set_xlim(-50, 50)
axL.set_ylim(0.38, 2.5)
axL.xaxis.set_major_locator(MultipleLocator(20))
axL.xaxis.set_minor_locator(MultipleLocator(5))
axL.yaxis.set_major_locator(MultipleLocator(0.5))
axL.yaxis.set_minor_locator(MultipleLocator(0.1))
axL.tick_params(axis='x', which='major', length=25, width=1.1, direction='in', top=True, bottom=True)
axL.tick_params(axis='x', which='minor', length=12.5, width=1.1, direction='in', top=True, bottom=True)
axL.tick_params(axis='y', which='major', length=9, width=1.1, direction='in', left=True, right=True)
axL.tick_params(axis='y', which='minor', length=5.5, width=1.1, direction='in', left=True, right=True)

axR.set_xlim(-2, 2)
axR.set_ylim(0, 2.6)
axR.xaxis.set_major_locator(MultipleLocator(1))
axR.xaxis.set_minor_locator(MultipleLocator(0.1))
axR.yaxis.set_major_locator(MultipleLocator(0.1))
axR.tick_params(axis='x', which='major', length=24.5, width=1.1, direction='in', top=True, bottom=True)
axR.tick_params(axis='x', which='minor', length=12.5, width=1.1, direction='in', top=True, bottom=True)
axR.tick_params(axis='y', which='major', length=8, width=1.1, direction='in', left=True, right=True)

for ax in (axL, axR):
    ax.tick_params(which='both', labelbottom=False, labelleft=False, labeltop=False, labelright=False)
    for sp in ax.spines.values():
        sp.set_linewidth(1.1)

fig.text(32.5 / W, 1 - 885 / H, 'Rectified Flux', rotation=90, ha='center', va='center',
         fontsize=38, **TEXT_KW)
fig.text(394 / W, 1 - 1888 / H, 'Wavelength', ha='center', va='baseline', fontsize=36, **TEXT_KW)
fig.text(1018 / W, 1 - 1888 / H, 'Wavelength', ha='center', va='baseline', fontsize=36, **TEXT_KW)

fig.savefig('out.png', dpi=100)
